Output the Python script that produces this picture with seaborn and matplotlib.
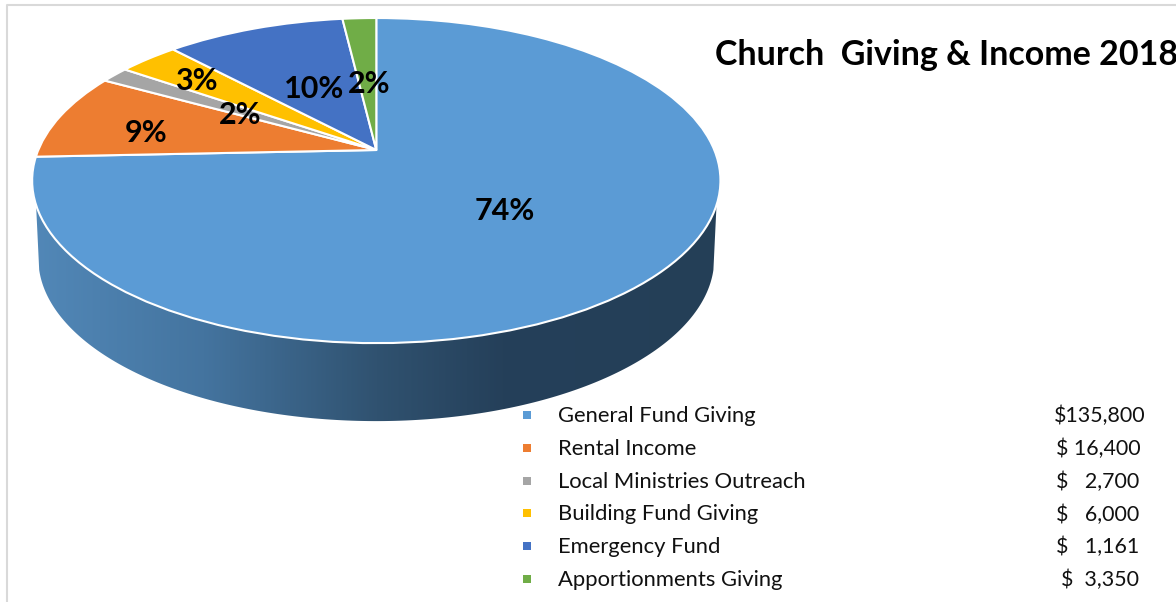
import matplotlib
matplotlib.use('Agg')
import matplotlib.pyplot as plt
import seaborn as sns
import numpy as np
import pandas as pd
from matplotlib.colors import LinearSegmentedColormap
from matplotlib.patches import Polygon
from matplotlib.transforms import Transform

categories = ['General Fund Giving', 'Rental Income', 'Local Ministries Outreach',
              'Building Fund Giving', 'Emergency Fund', 'Apportionments Giving']
# slice sizes, labels are the rounded ones it prints
shares = [74.4, 8.7, 1.6, 3.4, 10.1, 1.9]
share_labels = ['74%', '9%', '2%', '3%', '10%', '2%']
amounts = ['$135,800', '$ 16,400', '$   2,700', '$   6,000', '$   1,161', '$  3,350']
colors = ['#5B9BD5', '#ED7D31', '#A5A5A5', '#FFC000', '#4472C4', '#70AD47']

# where the slice labels sit in the picture
label_x = [505, 146, 240, 196, 314, 369]
label_y = [211, 133, 115, 81, 89, 84]
amount_x = [1054, 1056, 1056, 1056, 1056, 1061]

CX, CY, A, B, K = 376.3, 150, 338, 156.8, 0.188
DEPTH = 78


class Perspective(Transform):
    # tilted unit circle -> pixel positions, apex is off the ellipse centre
    input_dims = 2
    output_dims = 2
    is_separable = False
    has_inverse = False

    def transform_non_affine(self, values):
        values = np.asarray(values, dtype=float)
        d = 1 + K * values[:, 1]
        return np.column_stack([CX + A * values[:, 0] / d, CY - B * values[:, 1] / d])


sns.set_theme(style='white')
plt.rcParams['font.family'] = ['Lato', 'DejaVu Sans']

fig = plt.figure(figsize=(11.76, 6.02), dpi=100)
ax = fig.add_axes([0, 0, 1, 1])
persp = Perspective()

# side of the disc
t_top = np.arcsin(-0.329)
t_low = np.arcsin(-0.255)
t = np.linspace(np.pi - t_low, 2 * np.pi + t_low, 200)
low = persp.transform_non_affine(np.column_stack([np.cos(t), np.sin(t)]))
low[:, 0] = CX + (low[:, 0] - CX) * 0.982
low[:, 1] += DEPTH
up = persp.transform_non_affine(np.array([[np.cos(np.pi - t_top), np.sin(t_top)],
                                          [np.cos(t_top), np.sin(t_top)]]))
side = Polygon(np.vstack([up[0], low, up[1]]), closed=True, facecolor='none', edgecolor='none')
ax.add_patch(side)
side_cmap = LinearSegmentedColormap.from_list(
    'side', [(0, '#5288b8'), (0.25, '#44749f'), (0.5, '#305270'), (0.68, '#25405a'), (1, '#243f57')])
img = ax.imshow(np.linspace(0, 1, 256).reshape(1, -1), cmap=side_cmap, aspect='auto',
                extent=(30, 724, 430, 190), zorder=1)
img.set_clip_path(side)

# top of the disc
wedges, _ = ax.pie(shares, colors=colors, startangle=90, counterclock=False,
                   wedgeprops={'edgecolor': 'white', 'linewidth': 1.5})
for w in wedges:
    w.set_transform(persp + ax.transData)
    w.set_zorder(2)

for x, y, s in zip(label_x, label_y, share_labels):
    ax.text(x, y, s, ha='center', va='center', fontsize=22, fontweight='bold',
            color='black', zorder=4)

ax.text(715, 55, 'Church  Giving & Income 2018', ha='left', va='center', fontsize=24.5,
        fontweight='bold', color='black', clip_on=True)

# legend rows
rows = 415 + 32.8 * np.arange(len(categories))
legend_df = pd.DataFrame({'x': 527, 'y': rows, 'name': categories})
sns.scatterplot(data=legend_df, x='x', y='y', hue='name', palette=colors, marker='s', s=32,
                linewidth=0, legend=False, ax=ax, zorder=3)
for y, name, amount, x in zip(rows, categories, amounts, amount_x):
    ax.text(558, y + 1, name, ha='left', va='center', fontsize=15.8, color='#111111')
    ax.text(x, y + 1, amount, ha='left', va='center', fontsize=15.4, color='#111111')

# frame of the pasted chart
ax.plot([7, 7, 1176], [602, 5, 5], color='#d9d9d9', linewidth=1.5, zorder=0)

ax.set_aspect('auto')
ax.set_xlim(0, 1176)
ax.set_ylim(602, 0)
ax.set_xlabel('')
ax.set_ylabel('')
ax.axis('off')
fig.savefig('out.png', dpi=100)
plt.close(fig)
